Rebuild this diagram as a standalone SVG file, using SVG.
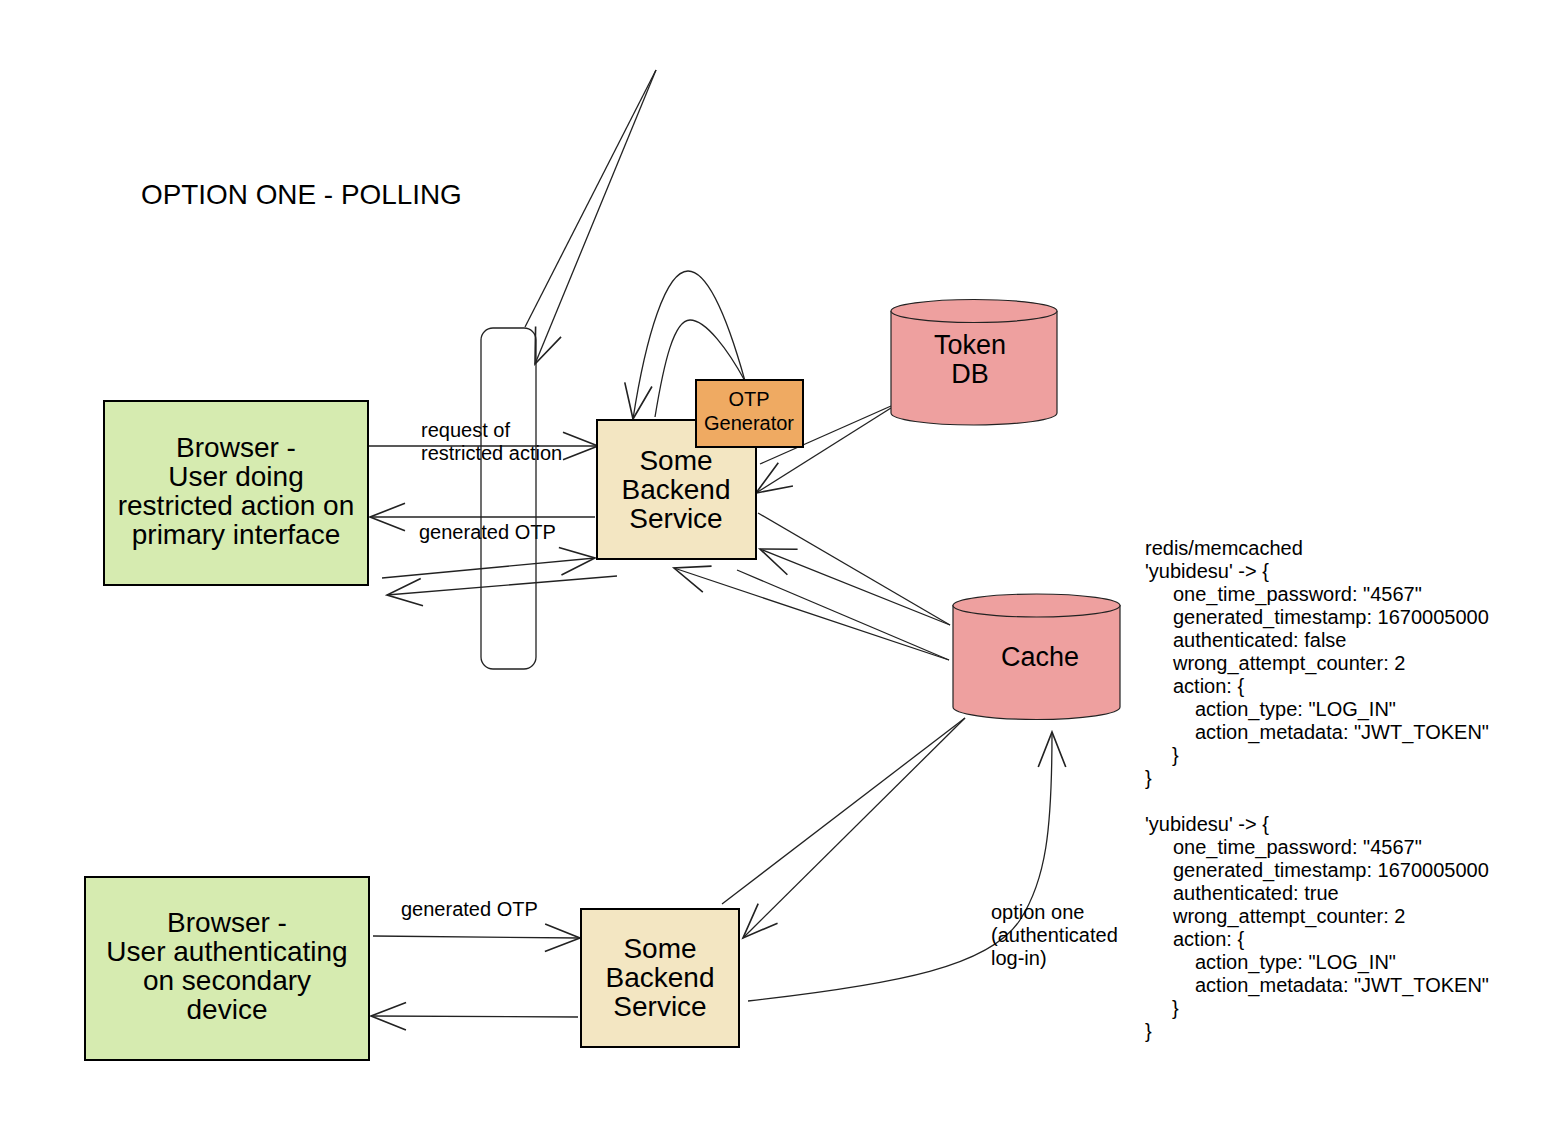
<svg xmlns="http://www.w3.org/2000/svg" width="1554" height="1146" viewBox="0 0 1554 1146">
<style>
text{font-family:"Liberation Sans",Arial,sans-serif;fill:#000}
.big{font-size:28px;text-anchor:middle}
.db{font-size:27px;text-anchor:middle}
.lbl{font-size:20px}
.code{font-size:20px}
.box{stroke:#000;stroke-width:2}
.green{fill:#d6ebb0}
.beige{fill:#f3e6c2}
.orange{fill:#efaa62}
.cyl{fill:#eea09f;stroke:#222;stroke-width:1.2}
.c{fill:none;stroke:#222;stroke-width:1.3}
</style>
<defs>
<marker id="ah" markerUnits="userSpaceOnUse" markerWidth="40" markerHeight="40" refX="0" refY="0" viewBox="-30 -15 32 30" orient="auto" overflow="visible">
<path d="M-28,-11 L0,0 L-28,11" fill="none" stroke="#222" stroke-width="1.3"/>
</marker>
</defs>
<rect width="1554" height="1146" fill="#fff"/>
<text x="141" y="204" style="font-size:27.9px">OPTION ONE - POLLING</text>

<g id="connectors">
<path class="c" d="M525,327 L656,70"/>
<path class="c" d="M656,70 L535,364" marker-end="url(#ah)"/>
<path class="c" d="M369,446 L598,446" marker-end="url(#ah)"/>
<path class="c" d="M595,517 L370,517" marker-end="url(#ah)"/>
<path class="c" d="M382,578 L595,558" marker-end="url(#ah)"/>
<path class="c" d="M617,576 L387,595" marker-end="url(#ah)"/>
<path class="c" d="M745,381 C728,320 708,271 688,271 C666,271 646,335 633,419" marker-end="url(#ah)"/>
<path class="c" d="M655,417 C664,362 674,320 690,320 C706,320 728,350 745,381"/>
<path class="c" d="M760,464 L891,406"/>
<path class="c" d="M891,408 L756,493" marker-end="url(#ah)"/>
<path class="c" d="M758,513 L950,625"/>
<path class="c" d="M950,625 L760,549" marker-end="url(#ah)"/>
<path class="c" d="M737,570 L949,660"/>
<path class="c" d="M949,660 L674,568" marker-end="url(#ah)"/>
<path class="c" d="M722,904 L965,718"/>
<path class="c" d="M965,718 L743,938" marker-end="url(#ah)"/>
<path class="c" d="M748,1001 C900,984 990,966 1020,920 C1046,880 1052,830 1052,732" marker-end="url(#ah)"/>
<path class="c" d="M373,936 L580,938" marker-end="url(#ah)"/>
<path class="c" d="M578,1017 L371,1016" marker-end="url(#ah)"/>
<text class="lbl" x="421" y="437">request of</text>
<text class="lbl" x="421" y="460">restricted action</text>
<text class="lbl" x="419" y="539">generated OTP</text>
<text class="lbl" x="401" y="916">generated OTP</text>
<text class="lbl" x="991" y="919">option one</text>
<text class="lbl" x="991" y="942">(authenticated</text>
<text class="lbl" x="991" y="965">log-in)</text>
</g>

<g id="polling-bar">
<rect x="481" y="328" width="55" height="341" rx="12" fill="none" stroke="#222" stroke-width="1.3"/>
</g>

<g id="browser-primary">
<rect class="box green" x="104" y="401" width="264" height="184"/>
<text class="big" x="236" y="457">Browser -</text>
<text class="big" x="236" y="486">User doing</text>
<text class="big" x="236" y="515">restricted action on</text>
<text class="big" x="236" y="544">primary interface</text>
</g>

<g id="backend-top">
<rect class="box beige" x="597" y="420" width="159" height="139"/>
<text class="big" x="676" y="470">Some</text>
<text class="big" x="676" y="499">Backend</text>
<text class="big" x="676" y="528">Service</text>
</g>

<g id="otp-generator">
<rect class="box orange" x="696" y="380" width="107" height="67"/>
<text x="749" y="406" style="font-size:20px;text-anchor:middle">OTP</text>
<text x="749" y="430" style="font-size:20px;text-anchor:middle">Generator</text>
</g>

<g id="token-db">
<path class="cyl" d="M891,311 L891,413 A83,12 0 0 0 1057,413 L1057,311"/>
<ellipse class="cyl" cx="974" cy="311" rx="83" ry="11.5"/>
<text class="db" x="970" y="354">Token</text>
<text class="db" x="970" y="383">DB</text>
</g>

<g id="cache">
<path class="cyl" d="M953,605 L953,707 A83.5,12.5 0 0 0 1120,707 L1120,605"/>
<ellipse class="cyl" cx="1036.5" cy="605.5" rx="83.5" ry="11.5"/>
<text class="db" x="1040" y="666">Cache</text>
</g>

<g id="browser-secondary">
<rect class="box green" x="85" y="877" width="284" height="183"/>
<text class="big" x="227" y="932">Browser -</text>
<text class="big" x="227" y="961">User authenticating</text>
<text class="big" x="227" y="990">on secondary</text>
<text class="big" x="227" y="1019">device</text>
</g>

<g id="backend-bottom">
<rect class="box beige" x="581" y="909" width="158" height="138"/>
<text class="big" x="660" y="958">Some</text>
<text class="big" x="660" y="987">Backend</text>
<text class="big" x="660" y="1016">Service</text>
</g>

<g id="cache-notes" class="code">
<text x="1145" y="555">redis/memcached</text>
<text x="1145" y="578">'yubidesu' -&gt; {</text>
<text x="1173" y="601">one_time_password: "4567"</text>
<text x="1173" y="624">generated_timestamp: 1670005000</text>
<text x="1173" y="647">authenticated: false</text>
<text x="1173" y="670">wrong_attempt_counter: 2</text>
<text x="1173" y="693">action: {</text>
<text x="1195" y="716">action_type: "LOG_IN"</text>
<text x="1195" y="739">action_metadata: "JWT_TOKEN"</text>
<text x="1172" y="762">}</text>
<text x="1145" y="785">}</text>
<text x="1145" y="831">'yubidesu' -&gt; {</text>
<text x="1173" y="854">one_time_password: "4567"</text>
<text x="1173" y="877">generated_timestamp: 1670005000</text>
<text x="1173" y="900">authenticated: true</text>
<text x="1173" y="923">wrong_attempt_counter: 2</text>
<text x="1173" y="946">action: {</text>
<text x="1195" y="969">action_type: "LOG_IN"</text>
<text x="1195" y="992">action_metadata: "JWT_TOKEN"</text>
<text x="1172" y="1015">}</text>
<text x="1145" y="1038">}</text>
</g>
</svg>
